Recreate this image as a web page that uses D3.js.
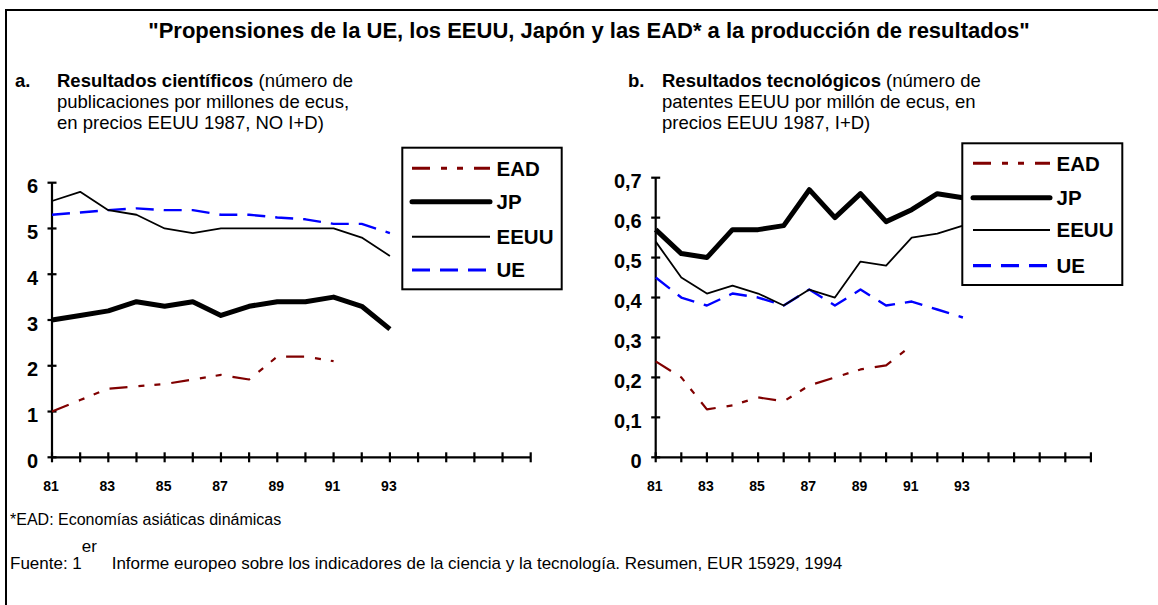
<!DOCTYPE html>
<html>
<head>
<meta charset="utf-8">
<script src="https://cdn.jsdelivr.net/npm/d3@7"></script>
<style>
  html, body { margin: 0; padding: 0; background: #fff; }
  svg { display: block; font-family: "Liberation Sans", Arial, sans-serif; }
</style>
</head>
<body>
<svg id="chart" width="1158" height="605"></svg>
<script>
// ---------- DATA ----------
const years = [81, 82, 83, 84, 85, 86, 87, 88, 89, 90, 91, 92, 93];
const axisYears = [81, 82, 83, 84, 85, 86, 87, 88, 89, 90, 91, 92, 93, 94, 95, 96, 97, 98];
const xTickLabels = [81, 83, 85, 87, 89, 91, 93];
const seriesNames = ["EAD", "JP", "EEUU", "UE"];

// a. Resultados científicos
const sciEAD  = [1.0, 1.25, 1.5, 1.55, 1.6, 1.7, 1.8, 1.7, 2.2, 2.2, 2.1];
const sciJP   = [3.0, 3.1, 3.2, 3.4, 3.3, 3.4, 3.1, 3.3, 3.4, 3.4, 3.5, 3.3, 2.8];
const sciEEUU = [5.6, 5.8, 5.4, 5.3, 5.0, 4.9, 5.0, 5.0, 5.0, 5.0, 5.0, 4.8, 4.4];
const sciUE   = [5.3, 5.35, 5.4, 5.44, 5.4, 5.4, 5.3, 5.3, 5.24, 5.2, 5.1, 5.1, 4.9];
const sciTicks = [0, 1, 2, 3, 4, 5, 6];

// b. Resultados tecnológicos
const tecEAD  = [0.24, 0.20, 0.12, 0.13, 0.15, 0.14, 0.18, 0.20, 0.22, 0.23, 0.28];
const tecJP   = [0.57, 0.51, 0.50, 0.57, 0.57, 0.58, 0.67, 0.60, 0.66, 0.59, 0.62, 0.66, 0.65];
const tecEEUU = [0.54, 0.45, 0.41, 0.43, 0.41, 0.38, 0.42, 0.40, 0.49, 0.48, 0.55, 0.56, 0.58];
const tecUE   = [0.45, 0.40, 0.38, 0.41, 0.40, 0.38, 0.42, 0.38, 0.42, 0.38, 0.39, 0.37, 0.35];
const tecTicks = [0, 0.1, 0.2, 0.3, 0.4, 0.5, 0.6, 0.7];

// ---------- STYLES ----------
const styles = {
  EAD:  { color: "#800000", width: 2.2, dash: "18,11,6,10,6,11", lw: 3, lcap: "butt" },
  JP:   { color: "#000000", width: 5,   dash: null, lw: 5, lcap: "round" },
  EEUU: { color: "#000000", width: 1.8, dash: null, lw: 2, lcap: "butt" },
  UE:   { color: "#0000ff", width: 2.4, dash: "18,10", lw: 3.2, lcap: "butt" }
};

const svg = d3.select("#chart");
const FONT = '"Liberation Sans", Arial, sans-serif';

// frame
svg.append("path").attr("d", "M6,605 L6,10 L1158,10")
  .attr("fill", "none").attr("stroke", "#000").attr("stroke-width", 2);

// title
svg.append("text").attr("x", 589).attr("y", 38).attr("text-anchor", "middle")
  .attr("font-size", 22).attr("font-weight", "bold")
  .text("\"Propensiones de la UE, los EEUU, Japón y las EAD* a la producción de resultados\"");

function subtitle(x0, xl, lines, boldPart, restFirst) {
  const g = svg.append("g").attr("font-size", 18.5);
  g.append("text").attr("x", x0).attr("y", 86.5).attr("font-weight", "bold").text(lines[0]);
  const t = g.append("text").attr("x", xl).attr("y", 86.5);
  t.append("tspan").attr("font-weight", "bold").text(boldPart);
  t.append("tspan").text(restFirst);
  g.append("text").attr("x", xl).attr("y", 107.5).text(lines[1]);
  g.append("text").attr("x", xl).attr("y", 128.5).text(lines[2]);
}
subtitle(15, 57, ["a.", "publicaciones por millones de ecus,", "en precios EEUU 1987, NO I+D)"],
  "Resultados científicos", " (número de");
subtitle(628, 662, ["b.", "patentes EEUU por millón de ecus, en", "precios EEUU 1987, I+D)"],
  "Resultados tecnológicos", " (número de");

// footnotes
svg.append("text").attr("x", 10).attr("y", 525).attr("font-size", 16)
  .text("*EAD: Economías asiáticas dinámicas");
const src = svg.append("text").attr("x", 10).attr("y", 569).attr("font-size", 17);
src.append("tspan").text("Fuente: 1");
src.append("tspan").attr("dy", -17).text("er");
src.append("tspan").attr("dy", 17).attr("dx", 10).text(" Informe europeo sobre los indicadores de la ciencia y la tecnología. Resumen, EUR 15929, 1994");

function panel(cfg) {
  const x = d3.scaleLinear().domain([axisYears[0], axisYears[axisYears.length - 1]]).range(cfg.xr);
  const y = d3.scaleLinear().domain([0, cfg.ymax]).range(cfg.yr);
  const g = svg.append("g");

  // y axis labels
  const ya = g.append("g").attr("transform", `translate(${cfg.xr[0]},0)`)
    .call(d3.axisLeft(y).tickValues(cfg.ticks).tickSize(0).tickPadding(14)
      .tickFormat(d => d3.format(cfg.fmt)(d).replace(".", ",")));
  ya.select(".domain").remove();
  ya.selectAll("text").attr("font-size", 20).attr("font-weight", "bold")
    .attr("font-family", FONT).attr("fill", "#000").attr("dy", "0.68em")
    .attr("transform", "translate(0,-3.5)");
  g.append("line").attr("x1", cfg.xr[0]).attr("x2", cfg.xr[0])
    .attr("y1", cfg.yr[0]).attr("y2", cfg.yr[1]).attr("stroke", "#000").attr("stroke-width", 2.2);
  g.selectAll(".ytk").data(cfg.ticks).join("line")
    .attr("x1", cfg.xr[0] - 4.5).attr("x2", cfg.xr[0] + 4.5)
    .attr("y1", d => y(d)).attr("y2", d => y(d))
    .attr("stroke", "#000").attr("stroke-width", 2.2);

  // x axis
  g.append("line").attr("x1", cfg.xr[0]).attr("x2", cfg.xr[1])
    .attr("y1", cfg.yr[0]).attr("y2", cfg.yr[0]).attr("stroke", "#000").attr("stroke-width", 2.2);
  g.selectAll(".xtk").data(axisYears).join("line")
    .attr("x1", d => x(d)).attr("x2", d => x(d))
    .attr("y1", cfg.yr[0] - 5).attr("y2", cfg.yr[0] + 5)
    .attr("stroke", "#000").attr("stroke-width", 2.2);
  g.selectAll(".xlb").data(xTickLabels).join("text")
    .attr("x", d => x(d) - 1).attr("y", 491).attr("text-anchor", "middle")
    .attr("font-size", 14).attr("font-weight", "bold").text(d => d);

  // lines
  const line = d3.line().x((d, i) => x(years[i])).y(d => y(d));
  ["UE", "EEUU", "EAD", "JP"].forEach(name => {
    const s = styles[name];
    g.append("path").datum(cfg.data[name]).attr("d", line)
      .attr("fill", "none").attr("stroke", s.color).attr("stroke-width", s.width)
      .attr("stroke-linejoin", "round")
      .attr("stroke-dasharray", s.dash);
  });

  // legend
  const L = cfg.legend;
  const lg = g.append("g");
  lg.append("rect").attr("x", L.x).attr("y", L.y).attr("width", L.w).attr("height", L.h)
    .attr("fill", "#fff").attr("stroke", "#000").attr("stroke-width", 2);
  seriesNames.forEach((name, i) => {
    const s = styles[name];
    const yy = L.items[i];
    lg.append("line").attr("x1", L.lx[0]).attr("x2", L.lx[1]).attr("y1", yy).attr("y2", yy)
      .attr("stroke", s.color).attr("stroke-width", s.lw).attr("stroke-linecap", s.lcap)
      .attr("stroke-dasharray", s.dash);
    lg.append("text").attr("x", L.tx).attr("y", yy).attr("dy", "0.36em")
      .attr("font-size", 20.5).attr("font-weight", "bold").text(name);
  });
}

panel({
  xr: [52, 530.7], yr: [457.3, 182.7], ymax: 6, ticks: sciTicks, fmt: "d",
  data: { EAD: sciEAD, JP: sciJP, EEUU: sciEEUU, UE: sciUE },
  legend: { x: 402.3, y: 147.7, w: 159.4, h: 141.6, items: [168.3, 201.7, 236.7, 270],
            lx: [412, 490], tx: 496.5 }
});
panel({
  xr: [655.7, 1090.9], yr: [457.3, 177.7], ymax: 0.7, ticks: tecTicks, fmt: ".1~f",
  data: { EAD: tecEAD, JP: tecJP, EEUU: tecEEUU, UE: tecUE },
  legend: { x: 962.3, y: 143.3, w: 160, h: 141.7, items: [163.3, 197.7, 230, 265.7],
            lx: [973, 1050], tx: 1056.5 }
});
</script>
</body>
</html>
